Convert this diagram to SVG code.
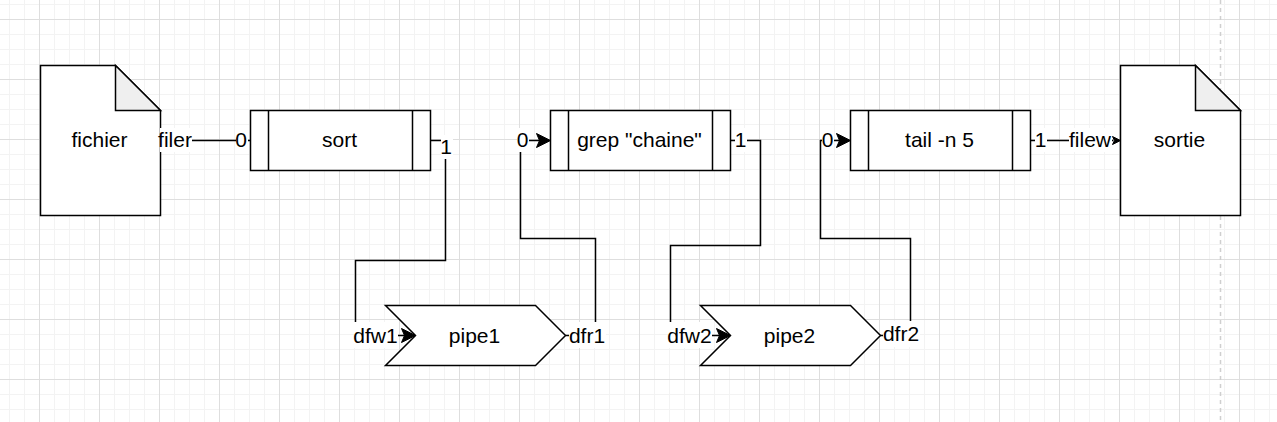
<svg xmlns="http://www.w3.org/2000/svg" width="1277" height="422" viewBox="0 0 1277 422">
<style>
.s{fill:#fff;stroke:#000;stroke-width:1.5}
.f{fill:#efefef;stroke:#000;stroke-width:1.5}
.i{fill:none;stroke:#000;stroke-width:1.5}
.c{fill:none;stroke:#000;stroke-width:1.5}
.a{fill:#000;stroke:#000;stroke-width:1}
text{font-family:"Liberation Sans",Arial,sans-serif;font-size:21px;fill:#000;text-anchor:middle;dominant-baseline:central}
.b{fill:#fff;stroke:none}
</style>
<defs>
<pattern id="minor" width="15" height="15" patternUnits="userSpaceOnUse" x="-6" y="4">
<path d="M0.5 0V15M0 0.5H15" fill="none" stroke="#f3f3f3" stroke-width="1"/>
</pattern>
<pattern id="major" width="60" height="60" patternUnits="userSpaceOnUse" x="39" y="19">
<path d="M0.5 0V60M0 0.5H60" fill="none" stroke="#dedede" stroke-width="1"/>
</pattern>
</defs>
<rect width="1277" height="422" fill="#fff"/>
<rect width="1277" height="422" fill="url(#minor)"/>
<rect width="1277" height="422" fill="url(#major)"/>
<path d="M1220.500 0V422" stroke="#cfcfcf" stroke-width="1.5" stroke-dasharray="4 4" fill="none"/>
<g id="connectors" transform="translate(0.5 0.5)">
<path class="c" d="M160 140H250"/>
<path class="c" d="M430 140H445V260H355V335H408"/>
<path class="a" d="M415 335L401 342L404 335L401 328Z"/>
<path class="c" d="M565 335H595V238H520V140H543"/>
<path class="a" d="M550 140L536 147L539 140L536 133Z"/>
<path class="c" d="M730 140H760V245H670V335H723"/>
<path class="a" d="M730 335L716 342L719 335L716 328Z"/>
<path class="c" d="M880 335H910V238H820V140H843"/>
<path class="a" d="M850 140L836 147L839 140L836 133Z"/>
<path class="c" d="M1030 140H1113"/>
<path class="a" d="M1120 140L1112 144L1114 140L1112 136Z"/>
</g>
<g id="fichier" transform="translate(0.5 0.5)">
<path class="s" d="M40 65H115L160 110V215H40Z"/>
<path class="f" d="M115 65V110H160Z"/>
<text x="99" y="139">fichier</text>
</g>
<g id="sort" transform="translate(0.5 0.5)">
<rect class="s" x="250" y="110" width="180" height="60"/>
<path class="i" d="M268 110V170M412 110V170"/>
<text x="339" y="139">sort</text>
</g>
<g id="grep" transform="translate(0.5 0.5)">
<rect class="s" x="550" y="110" width="180" height="60"/>
<path class="i" d="M568 110V170M712 110V170"/>
<text x="639" y="139">grep "chaine"</text>
</g>
<g id="tail" transform="translate(0.5 0.5)">
<rect class="s" x="850" y="110" width="180" height="60"/>
<path class="i" d="M868 110V170M1012 110V170"/>
<text x="939" y="139">tail -n 5</text>
</g>
<g id="sortie" transform="translate(0.5 0.5)">
<path class="s" d="M1120 65H1195L1240 110V215H1120Z"/>
<path class="f" d="M1195 65V110H1240Z"/>
<text x="1179" y="139">sortie</text>
</g>
<g id="pipe1" transform="translate(0.5 0.5)">
<path class="s" d="M385 305H535L565 335L535 365H385L415 335Z"/>
<text x="474" y="335">pipe1</text>
</g>
<g id="pipe2" transform="translate(0.5 0.5)">
<path class="s" d="M700 305H850L880 335L850 365H700L730 335Z"/>
<text x="789" y="335">pipe2</text>
</g>
<g id="labels">
<rect class="b" x="160" y="128" width="32" height="24"/><text x="175" y="139">filer</text>
<rect class="b" x="236" y="128" width="12" height="24"/><text x="241" y="139">0</text>
<rect class="b" x="441" y="135" width="12" height="24"/><text x="446" y="146">1</text>
<rect class="b" x="517" y="128" width="12" height="24"/><text x="522.500" y="139">0</text>
<rect class="b" x="735" y="128" width="12" height="24"/><text x="740.500" y="139">1</text>
<rect class="b" x="822" y="128" width="12" height="24"/><text x="827.500" y="139">0</text>
<rect class="b" x="1035" y="128" width="12" height="24"/><text x="1040.500" y="139">1</text>
<rect class="b" x="1069" y="128" width="43" height="24"/><text x="1090" y="139">filew</text>
<rect class="b" x="354" y="322" width="44" height="26"/><text x="375.500" y="335">dfw1</text>
<rect class="b" x="569" y="322" width="37" height="26"/><text x="587" y="335">dfr1</text>
<rect class="b" x="668" y="322" width="44" height="26"/><text x="689.500" y="335">dfw2</text>
<rect class="b" x="883" y="321" width="37" height="26"/><text x="901" y="333">dfr2</text>
</g>
</svg>
